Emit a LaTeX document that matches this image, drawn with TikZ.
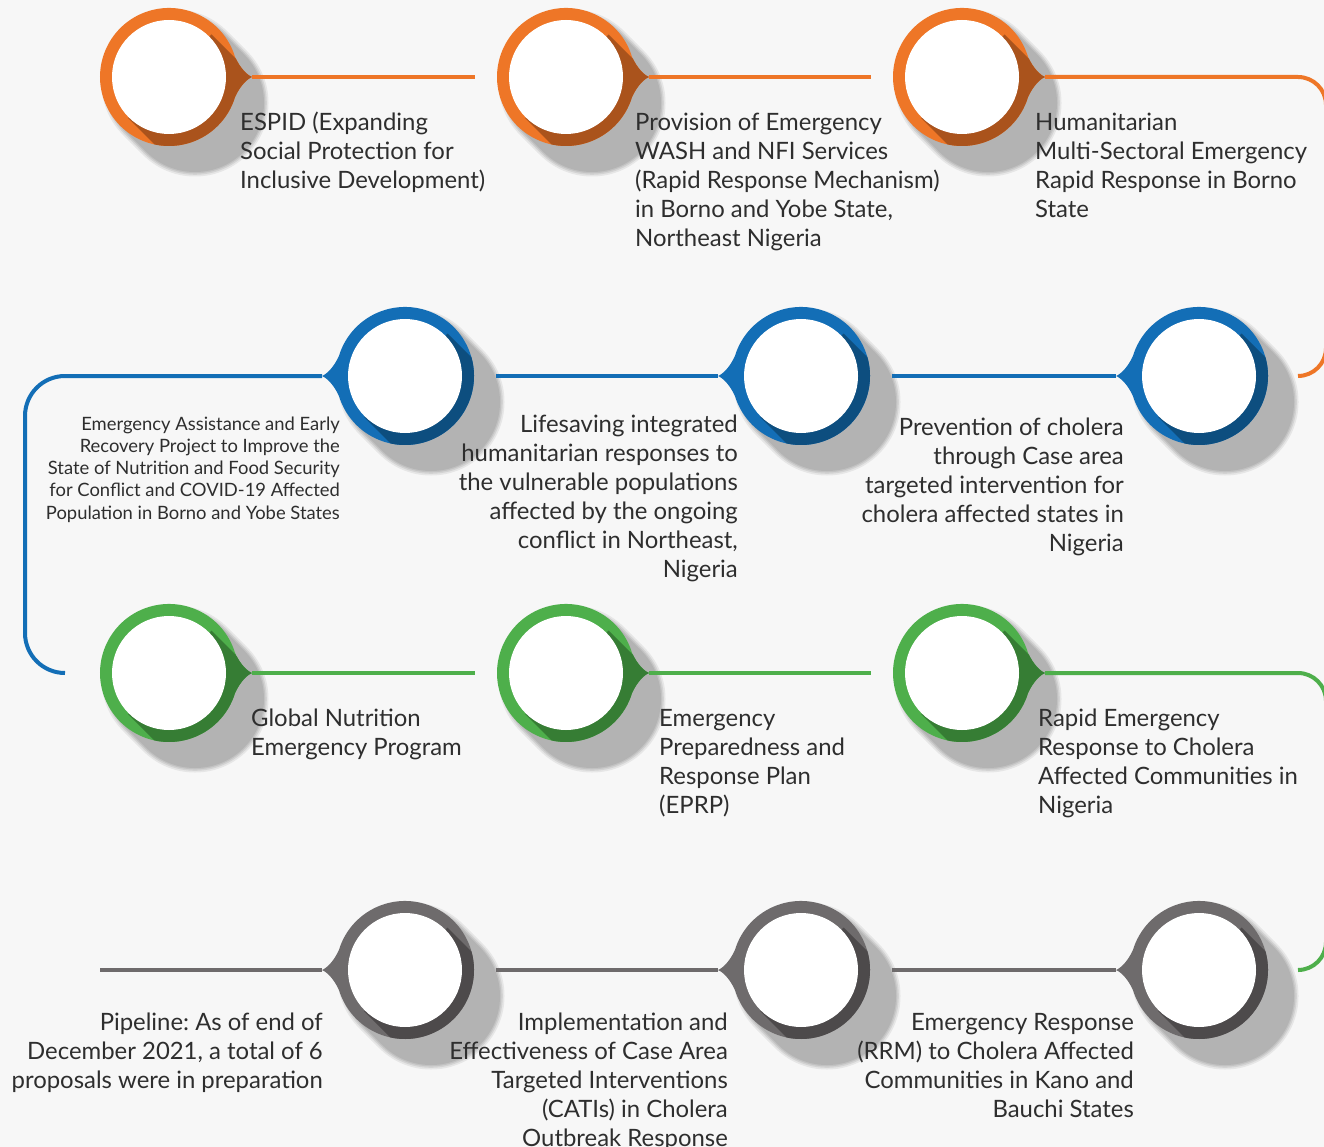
\documentclass[tikz,border=0pt]{standalone}
\usepackage{fontspec}
\setmainfont{Lato}
\frenchspacing
\definecolor{bgc}{HTML}{F7F7F7}
\definecolor{orL}{HTML}{EE7627}
\definecolor{orD}{HTML}{AA531C}
\definecolor{blL}{HTML}{136EB6}
\definecolor{blD}{HTML}{0D4E7F}
\definecolor{grL}{HTML}{4EAF4B}
\definecolor{grD}{HTML}{367D34}
\definecolor{gyL}{HTML}{6E6B6C}
\definecolor{gyD}{HTML}{4D4A4B}
\definecolor{shA}{HTML}{E6E6E6}
\definecolor{shB}{HTML}{D3D3D3}
\definecolor{shC}{HTML}{C2C2C2}
\definecolor{shD}{HTML}{B3B3B3}
\definecolor{txt}{HTML}{2E2E2E}
\newcommand{\pinPath}{(83,0) .. controls (78,-2) and (71,-9) .. (66,-20.2) arc[start angle=-17, end angle=-343, radius=69] .. controls (71,9) and (78,2) .. (83,0) -- cycle}
\newcommand{\pinShadow}[2]{%
  \foreach \r/\c in {73.5/shA,71.8/shB,70.3/shC,69/shD}{%
    \foreach \s in {6,11,16,21,26}{\fill[\c] (#1+\s,#2+\s) circle[radius=\r];}}}
\newcommand{\pinDraw}[6]{%
  \begin{scope}[shift={(#2,#3)}]
    \fill[#5,xscale=#4] \pinPath;
    \begin{scope}
      \clip[xscale=#4] \pinPath;
      \fill[#6] (42.5,-42.5) -- (148.5,63.5) -- (65,147) -- (-41,41) -- cycle;
    \end{scope}
    \fill[white] (0,0) circle[radius=57];
  \end{scope}
  \node[pinnode] (#1) at (#2,#3) {};
  \coordinate (#1tip) at ([xshift=#4*83pt]#1.center);}
\begin{document}
\begin{tikzpicture}[x=1pt,y=-1pt,
  pinnode/.style={circle,minimum size=138pt,inner sep=0pt,outer sep=0pt,draw=none},
  conn/.style={line width=4pt},
  oline/.style={conn,draw=orL},
  bline/.style={conn,draw=blL},
  gline/.style={conn,draw=grL},
  kline/.style={conn,draw=gyL},
  big/.style={inner sep=0pt,text=txt,font=\fontsize{23.9}{29}\selectfont},
  lt/.style={big,align=left,anchor=base west},
  rt/.style={big,align=right,anchor=base east},
  small/.style={inner sep=0pt,text=txt,font=\fontsize{18.4}{22.25}\selectfont,align=right,anchor=base east}]
\useasboundingbox (0,0) rectangle (1324,1147);
\clip (0,0) rectangle (1324,1147);
\fill[bgc] (0,0) rectangle (1324,1147);
% shadows
\foreach \x/\y in {169/77,566/77,962/77,405/376,801/376,1199/376,169/673,566/673,962/673,405/970,801/970,1199/970}{\pinShadow{\x}{\y}}
% connector ends
\coordinate (oend) at (1298,376);
\coordinate (bend) at (65,673);
\coordinate (gend) at (1298,970);
\coordinate (kend) at (100,970);
% pins
\pinDraw{p1}{169}{77}{1}{orL}{orD}
\pinDraw{p2}{566}{77}{1}{orL}{orD}
\pinDraw{p3}{962}{77}{1}{orL}{orD}
\pinDraw{p4}{405}{376}{-1}{blL}{blD}
\pinDraw{p5}{801}{376}{-1}{blL}{blD}
\pinDraw{p6}{1199}{376}{-1}{blL}{blD}
\pinDraw{p7}{169}{673}{1}{grL}{grD}
\pinDraw{p8}{566}{673}{1}{grL}{grD}
\pinDraw{p9}{962}{673}{1}{grL}{grD}
\pinDraw{p10}{405}{970}{-1}{gyL}{gyD}
\pinDraw{p11}{801}{970}{-1}{gyL}{gyD}
\pinDraw{p12}{1199}{970}{-1}{gyL}{gyD}
% connectors
\draw[oline] (p1tip) -- ([xshift=-22pt]p2.west);
\draw[oline] (p2tip) -- ([xshift=-22pt]p3.west);
\draw[oline,rounded corners=28pt] (p3tip) -- (1326,77) -- (1326,376) -- (oend);
\draw[bline] (p6tip) -- ([xshift=22pt]p5.east);
\draw[bline] (p5tip) -- ([xshift=22pt]p4.east);
\draw[bline,rounded corners=40pt] (p4tip) -- (25,376) -- (25,673) -- (bend);
\draw[gline] (p7tip) -- ([xshift=-22pt]p8.west);
\draw[gline] (p8tip) -- ([xshift=-22pt]p9.west);
\draw[gline,rounded corners=28pt] (p9tip) -- (1326,673) -- (1326,970) -- (gend);
\draw[kline] (p12tip) -- ([xshift=22pt]p11.east);
\draw[kline] (p11tip) -- ([xshift=22pt]p10.east);
\draw[kline] (p10tip) -- (kend);
% texts (anchor = baseline of the last line)
\node[lt] (t1) at (240,189) {ESPID (Expanding\\Social Protection for\\Inclusive Development)};
\node[lt] (t2) at (635,247) {Provision of Emergency\\WASH and NFI Services\\(Rapid Response Mechanism)\\in Borno and Yobe State,\\Northeast Nigeria};
\node[lt] (t3) at (1035,218) {Humanitarian\\Multi-Sectoral Emergency\\Rapid Response in Borno\\State};
\node[small] (t4) at (340,519) {Emergency Assistance and Early\\Recovery Project to Improve the\\State of Nutrition and Food Security\\for Conflict and COVID-19 Affected\\Population in Borno and Yobe States};
\node[rt] (t5) at (738,577) {Lifesaving integrated\\humanitarian responses to\\the vulnerable populations\\affected by the ongoing\\conflict in Northeast,\\Nigeria};
\node[rt] (t6) at (1124,551) {Prevention of cholera\\through Case area\\targeted intervention for\\cholera affected states in\\Nigeria};
\node[lt] (t7) at (251,755) {Global Nutrition\\Emergency Program};
\node[lt] (t8) at (659,813) {Emergency\\Preparedness and\\Response Plan\\(EPRP)};
\node[lt] (t9) at (1038,813) {Rapid Emergency\\Response to Cholera\\Affected Communities in\\Nigeria};
\node[rt] (t10) at (323,1088) {Pipeline: As of end of\\December 2021, a total of 6\\proposals were in preparation};
\node[rt] (t11) at (728,1146) {Implementation and\\Effectiveness of Case Area\\Targeted Interventions\\(CATIs) in Cholera\\Outbreak Response};
\node[rt] (t12) at (1134,1117) {Emergency Response\\(RRM) to Cholera Affected\\Communities in Kano and\\Bauchi States};
\end{tikzpicture}
\end{document}
